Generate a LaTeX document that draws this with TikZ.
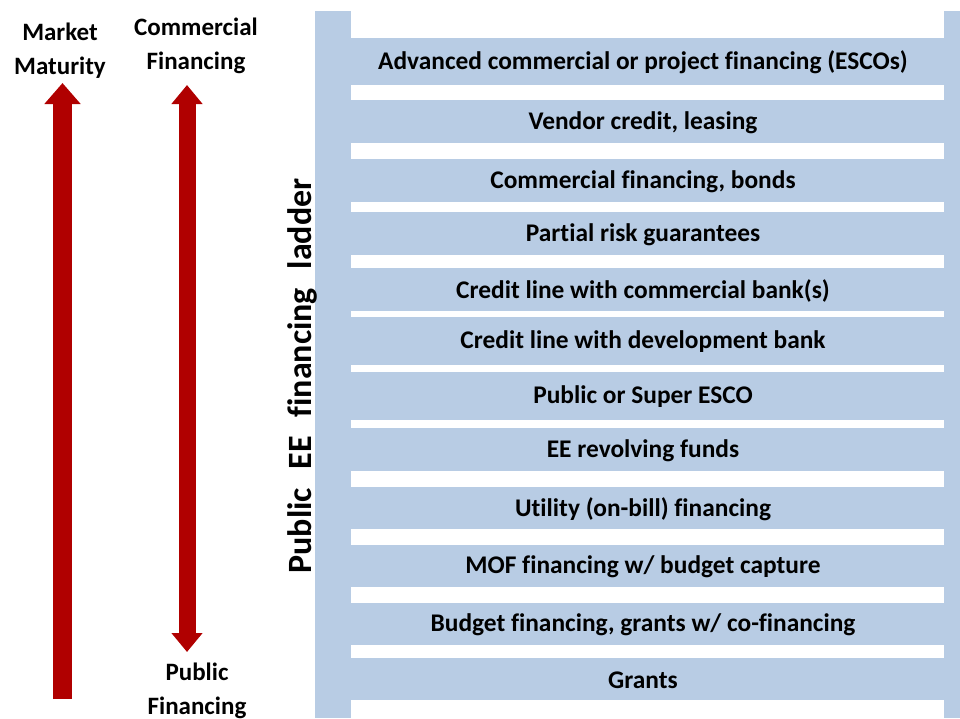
\documentclass[tikz,border=0pt]{standalone}
\usepackage{fontspec}
\setmainfont{Carlito}[Ligatures=CommonOff]
\usetikzlibrary{arrows.meta}
\definecolor{ladder}{HTML}{B8CCE4}
\definecolor{arrowred}{HTML}{B00000}
\tikzset{
  rungtext/.style={font=\bfseries\fontsize{25.4}{30}\selectfont, text=black, inner sep=0pt},
  sidelabel/.style={font=\bfseries\fontsize{25}{34}\selectfont, align=center, inner sep=0pt, text=black},
  bigarrow/.style={draw=arrowred, line width=19pt, -{Triangle[width=35pt,length=21pt]}},
  dblarrow/.style={draw=arrowred, line width=17pt, {Triangle[width=30pt,length=19pt]}-{Triangle[width=30pt,length=19pt]}},
}
\begin{document}
\begin{tikzpicture}[x=1pt,y=-1pt]
\useasboundingbox (0,0) rectangle (960,718);
% rails
\fill[ladder] (315,11) rectangle (351,718);
\fill[ladder] (944,11) rectangle (960,718);
% rungs
\foreach \t/\b/\name/\txt in {
  38/85/r1/{Advanced commercial or project financing (ESCOs)},
  100/143/r2/{Vendor credit, leasing},
  159/202/r3/{Commercial financing, bonds},
  212/255/r4/{Partial risk guarantees},
  268/311/r5/{Credit line with commercial bank(s)},
  317/365/r6/{Credit line with development bank},
  372/420/r7/{Public or Super ESCO},
  428/471/r8/{EE revolving funds},
  487/529/r9/{Utility (on-bill) financing},
  545/587/r10/{MOF financing w/ budget capture},
  603/645/r11/{Budget financing, grants w/ co-financing},
  658/700/r12/{Grants}}
{
  \fill[ladder] (351,\t) rectangle (944,\b);
  \node[rungtext] (\name) at (643,{(\t+\b)/2+1}) {\txt};
}
% vertical title
\node[rotate=90, anchor=base, font=\bfseries\fontsize{34}{38}\selectfont, inner sep=0pt] (title) at (311,376)
  {Public\hspace{0.55em}EE\hspace{0.55em}financing\hspace{0.55em}ladder};
% left labels
\node[sidelabel] (mm) at (60,51) {Market\\Maturity};
\node[sidelabel] (cf) at (196,46) {Commercial\\Financing};
\node[sidelabel] (pf) at (197,691) {Public\\Financing};
% arrows
\coordinate (mmtop) at (62.5,83);
\coordinate (mmbot) at (62.5,699);
\coordinate (cftop) at (187,85);
\coordinate (pfbot) at (187,652);
\draw[bigarrow] (mmbot) -- (mmtop);
\draw[dblarrow] (pfbot) -- (cftop);
\end{tikzpicture}
\end{document}
